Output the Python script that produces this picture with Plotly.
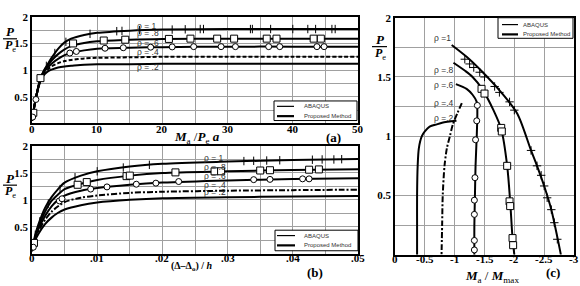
import plotly.graph_objects as go

W, H = 580, 286

# ---------------- Panel (a): P/Pe vs Ma/(Pe a) ----------------
xa = [0, 0.5, 1, 1.5, 2, 2.5, 3, 4, 5, 6, 8, 10, 15, 20, 30, 40, 50]
a_r10 = [0.05, 0.42, 0.7, 0.9, 1.03, 1.13, 1.23, 1.4, 1.52, 1.59, 1.66, 1.7, 1.74, 1.76, 1.77, 1.77, 1.77]
a_r08 = [0.05, 0.42, 0.7, 0.9, 1.02, 1.1, 1.18, 1.3, 1.39, 1.45, 1.51, 1.54, 1.57, 1.585, 1.59, 1.59, 1.59]
a_r06 = [0.05, 0.42, 0.7, 0.9, 1.0, 1.06, 1.12, 1.21, 1.28, 1.32, 1.37, 1.4, 1.42, 1.43, 1.44, 1.44, 1.44]
a_r04 = [0.05, 0.42, 0.7, 0.88, 0.97, 1.02, 1.07, 1.13, 1.17, 1.19, 1.22, 1.23, 1.24, 1.25, 1.25, 1.25, 1.25]
a_r02 = [0.05, 0.42, 0.68, 0.85, 0.93, 0.98, 1.01, 1.05, 1.07, 1.08, 1.1, 1.11, 1.11, 1.12, 1.12, 1.12, 1.12]

# ABAQUS points (a)
aq_a_r10_x = [0.3, 0.9, 2.2, 3.5, 5.2, 8.9, 13, 13.8, 16.5, 21.5, 23.5, 25.8, 26.3, 33.5, 33.8, 36.6, 40, 42.3, 43.5, 46, 46.5]
aq_a_r10_y = [0.28, 0.65, 1.08, 1.32, 1.53, 1.68, 1.73, 1.735, 1.75, 1.76, 1.765, 1.77, 1.77, 1.77, 1.77, 1.77, 1.77, 1.77, 1.77, 1.77, 1.77]
aq_a_r08_x = [0.2, 1.3, 6.3, 11, 14.3, 21, 24.3, 28.4, 31, 36, 37.5, 43.2, 44.3]
aq_a_r08_y = [0.2, 0.85, 1.5, 1.555, 1.57, 1.585, 1.59, 1.59, 1.59, 1.59, 1.59, 1.59, 1.59]
aq_a_r06_x = [0.1, 0.6, 5.8, 6.8, 11.2, 14, 18.2, 21.5, 24.8, 29, 31.2, 36.3, 38, 43.7, 44.8]
aq_a_r06_y = [0.12, 0.45, 1.32, 1.35, 1.41, 1.42, 1.43, 1.435, 1.44, 1.44, 1.44, 1.44, 1.44, 1.44, 1.44]

# ---------------- Panel (b): P/Pe vs (Δ-Δo)/h ----------------
xb = [0, 0.0005, 0.001, 0.002, 0.003, 0.004, 0.005, 0.0075, 0.01, 0.015, 0.02, 0.03, 0.04, 0.05]
b_r10 = [0.05, 0.35, 0.55, 0.85, 1.05, 1.2, 1.32, 1.45, 1.53, 1.62, 1.67, 1.71, 1.74, 1.76]
b_r08 = [0.05, 0.32, 0.5, 0.78, 0.98, 1.1, 1.2, 1.3, 1.37, 1.45, 1.5, 1.53, 1.555, 1.57]
b_r06 = [0.05, 0.3, 0.46, 0.7, 0.88, 1.0, 1.08, 1.17, 1.22, 1.28, 1.32, 1.36, 1.385, 1.40]
b_r04 = [0.05, 0.28, 0.42, 0.63, 0.78, 0.88, 0.96, 1.04, 1.08, 1.13, 1.15, 1.17, 1.18, 1.19]
b_r02 = [0.05, 0.25, 0.37, 0.55, 0.67, 0.76, 0.82, 0.9, 0.95, 1.0, 1.03, 1.05, 1.06, 1.07]

aq_b_r10_x = [0.0005, 0.0012, 0.0025, 0.0043, 0.0066, 0.01, 0.014, 0.018, 0.0325, 0.034, 0.036, 0.038, 0.043, 0.0445, 0.0463, 0.0475]
aq_b_r10_y = [0.35, 0.6, 0.93, 1.2, 1.42, 1.53, 1.6, 1.65, 1.72, 1.725, 1.73, 1.735, 1.745, 1.75, 1.75, 1.755]
aq_b_r08_x = [0.0003, 0.007, 0.0084, 0.0145, 0.015, 0.022, 0.028, 0.029, 0.035, 0.0365, 0.0425, 0.044]
aq_b_r08_y = [0.2, 1.28, 1.33, 1.44, 1.45, 1.51, 1.53, 1.53, 1.545, 1.55, 1.56, 1.565]
aq_b_r06_x = [0.0002, 0.0042, 0.0046, 0.009, 0.0115, 0.016, 0.019, 0.0225, 0.034, 0.0365, 0.0415, 0.0425]
aq_b_r06_y = [0.12, 0.98, 1.02, 1.2, 1.24, 1.29, 1.31, 1.34, 1.375, 1.38, 1.39, 1.39]

# ---------------- Panel (c): P/Pe vs Ma/Mmax ----------------
c_r10_x = [-0.95, -1.2, -1.45, -1.78, -2.05, -2.28, -2.38, -2.5, -2.62, -2.72, -2.78]
c_r10_y = [1.77, 1.67, 1.55, 1.37, 1.19, 0.88, 0.75, 0.58, 0.38, 0.15, 0]
c_r08_x = [-0.98, -1.18, -1.3, -1.46, -1.65, -1.78, -1.88, -1.93, -1.97, -2.0]
c_r08_y = [1.62, 1.55, 1.5, 1.4, 1.22, 1.06, 0.75, 0.45, 0.14, 0]
c_r06_x = [-1.02, -1.2, -1.3, -1.37, -1.38, -1.37, -1.35, -1.34, -1.33, -1.33]
c_r06_y = [1.44, 1.4, 1.35, 1.29, 1.2, 1.0, 0.75, 0.5, 0.25, 0]
c_r04_x = [-1.12, -1.05, -0.97, -0.92, -0.87, -0.83, -0.8, -0.79, -0.78]
c_r04_y = [1.28, 1.2, 1.1, 1.0, 0.9, 0.75, 0.5, 0.25, 0]
c_r02_x = [-1.03, -0.85, -0.7, -0.58, -0.5, -0.45, -0.4, -0.38, -0.37, -0.37, -0.37]
c_r02_y = [1.13, 1.12, 1.1, 1.08, 1.04, 1.0, 0.9, 0.75, 0.5, 0.25, 0]

aq_c_r10_x = [-1.17, -1.25, -1.32, -1.42, -1.5, -1.67, -1.75, -1.92, -2.0, -2.28, -2.38, -2.45, -2.5, -2.55, -2.62, -2.67, -2.72]
aq_c_r10_y = [1.65, 1.61, 1.58, 1.54, 1.5, 1.42, 1.37, 1.29, 1.22, 0.88, 0.75, 0.67, 0.58, 0.48, 0.38, 0.27, 0.13]
aq_c_r08_x = [-1.45, -1.5, -1.78, -1.79, -1.88, -1.92, -1.93, -1.97, -1.98]
aq_c_r08_y = [1.4, 1.36, 1.07, 1.04, 0.75, 0.45, 0.41, 0.14, 0.08]
aq_c_r06_x = [-1.38, -1.37, -1.35, -1.34, -1.33, -1.33, -1.33, -1.33]
aq_c_r06_y = [1.26, 1.13, 0.97, 0.65, 0.46, 0.34, 0.12, 0.04]

# tick labels
xa_ticks = [0, 10, 20, 30, 40, 50]
xa_text = ["0", "10", "20", "30", "40", "50"]
xb_ticks = [0, 0.01, 0.02, 0.03, 0.04, 0.05]
xb_text = ["0", ".01", ".02", ".03", ".04", ".05"]
xc_ticks = [0, -0.5, -1, -1.5, -2, -2.5, -3]
xc_text = ["0", "-0.5", "-1", "-1.5", "-2", "-2.5", "-3"]
y_ticks = [0.5, 1, 1.5, 2]
y_text = ["0.5", "1", "1.5", "2"]

rho_labels = ["ρ = 1", "ρ = .8", "ρ = .6", "ρ = .4", "ρ = .2"]
rho_labels_c = ["ρ =1", "ρ =.8", "ρ =.6", "ρ =.4", "ρ =.2"]

legend_labels = ["ABAQUS", "Proposed Method"]


def px(x):
    return x / W


def py(y):
    return 1 - y / H


fig = go.Figure()

THICK = 2.0


def add_curves(xs_list, ys_list, xaxis, yaxis, dash4):
    for i, (xs, ys) in enumerate(zip(xs_list, ys_list)):
        dash = dash4 if i == 3 else "solid"
        fig.add_trace(go.Scatter(x=xs, y=ys, mode="lines", xaxis=xaxis, yaxis=yaxis,
                                 line=dict(color="black", width=THICK, dash=dash, shape="spline", smoothing=0.8),
                                 showlegend=False, hoverinfo="skip"))


def add_aq(x, y, xaxis, yaxis, symbol, size=7):
    is_open = symbol.endswith("-open")
    fig.add_trace(go.Scatter(x=x, y=y, mode="markers", xaxis=xaxis, yaxis=yaxis,
                             marker=dict(symbol=symbol, size=size, color="black" if is_open else "white",
                                         line=dict(color="black", width=1)),
                             showlegend=False, hoverinfo="skip"))


add_curves([xa] * 5, [a_r10, a_r08, a_r06, a_r04, a_r02], "x", "y", "4px,2px")
add_aq(aq_a_r10_x, aq_a_r10_y, "x", "y", "line-ns-open", 6)
add_aq(aq_a_r08_x, aq_a_r08_y, "x", "y", "square", 7)
add_aq(aq_a_r06_x, aq_a_r06_y, "x", "y", "circle", 6)

add_curves([xb] * 5, [b_r10, b_r08, b_r06, b_r04, b_r02], "x2", "y2", "6px,2px,2px,2px")
add_aq(aq_b_r10_x, aq_b_r10_y, "x2", "y2", "line-ns-open", 6)
add_aq(aq_b_r08_x, aq_b_r08_y, "x2", "y2", "square", 7)
add_aq(aq_b_r06_x, aq_b_r06_y, "x2", "y2", "circle", 6)

add_curves([c_r10_x, c_r08_x, c_r06_x, c_r04_x, c_r02_x],
           [c_r10_y, c_r08_y, c_r06_y, c_r04_y, c_r02_y], "x3", "y3", "6px,2px,2px,2px")
add_aq(aq_c_r10_x, aq_c_r10_y, "x3", "y3", "cross-thin-open", 6)
add_aq(aq_c_r08_x, aq_c_r08_y, "x3", "y3", "square", 7)
add_aq(aq_c_r06_x, aq_c_r06_y, "x3", "y3", "circle", 6)

tickfont = dict(family="Liberation Serif", size=11, color="black", weight="bold")
axis_common = dict(showline=True, mirror=True, linecolor="black", linewidth=1.5,
                   showgrid=True, gridcolor="#a0a0a0", gridwidth=1, zeroline=False,
                   ticks="", tickfont=tickfont, fixedrange=True)
gridminor = dict(showgrid=True, gridcolor="#a0a0a0")

fig.update_layout(
    width=W, height=H,
    margin=dict(l=0, r=0, t=0, b=0),
    paper_bgcolor="white", plot_bgcolor="white",
    showlegend=False,
    xaxis=dict(domain=[px(32), px(358)], range=[0, 50], tickvals=xa_ticks, showticklabels=False,
               minor=dict(dtick=5, **gridminor), anchor="y", **axis_common),
    yaxis=dict(domain=[py(120), py(11)], range=[0, 2], tickvals=y_ticks, ticktext=y_text,
               minor=dict(dtick=0.25, **gridminor), anchor="x", **axis_common),
    xaxis2=dict(domain=[px(32), px(358)], range=[0, 0.05], tickvals=xb_ticks, showticklabels=False,
                minor=dict(dtick=0.005, **gridminor), anchor="y2", **axis_common),
    yaxis2=dict(domain=[py(253), py(143)], range=[0, 2], tickvals=y_ticks, ticktext=y_text,
                minor=dict(dtick=0.25, **gridminor), anchor="x2", **axis_common),
    xaxis3=dict(domain=[px(395), px(574)], range=[0, -3], tickvals=xc_ticks, showticklabels=False,
                anchor="y3", **axis_common),
    yaxis3=dict(domain=[py(254), py(12)], range=[0, 2], tickvals=y_ticks, ticktext=y_text,
                minor=dict(dtick=0.25, **gridminor), anchor="x3", **axis_common),
)

ann = []
shapes = []
serif = "Liberation Serif"
sans = "Liberation Sans"


def note(x, y, text, size, family=serif, color="black", xanchor="center", xref="paper", yref="paper"):
    if xref == "paper":
        x = px(x)
    if yref == "paper":
        y = py(y)
    ann.append(dict(x=x, y=y, xref=xref, yref=yref, text=text, showarrow=False,
                    xanchor=xanchor, yanchor="middle",
                    font=dict(family=family, size=size, color=color)))


# x tick labels (placed close to the frame, as in the reference)
for v, t in zip(xa_ticks, xa_text):
    note(v, 126, "<b>" + t + "</b>", 11, xref="x")
for v, t in zip(xb_ticks, xb_text):
    note(v, 257, "<b>" + t + "</b>", 11, xref="x2")
for v, t in zip(xc_ticks, xc_text):
    note(v, 258, "<b>" + t + "</b>", 11, xref="x3")

# rho labels
rho_a_y = [1.83, 1.69, 1.5, 1.34, 1.05]
for lab, yv in zip(rho_labels, rho_a_y):
    note(15.8, yv, lab, 8.5, sans, "#333", "left", "x", "y")
rho_b_y = [1.78, 1.61, 1.44, 1.27, 1.15]
for lab, yv in zip(rho_labels, rho_b_y):
    note(0.0261, yv, lab, 8.5, sans, "#333", "left", "x2", "y2")
rho_c_y = [1.83, 1.56, 1.43, 1.28, 1.15]
for lab, yv in zip(rho_labels_c, rho_c_y):
    note(-0.62, yv, lab, 8.5, sans, "#333", "left", "x3", "y3")


def pfrac(cx, ytop, yline, ybot, x0, x1):
    note(cx, ytop, "<b><i>P</i></b>", 13)
    note(cx, ybot, "<b><i>P</i></b><sub>e</sub>", 12)
    shapes.append(dict(type="line", xref="paper", yref="paper", x0=px(x0), x1=px(x1),
                       y0=py(yline), y1=py(yline), line=dict(color="black", width=1.2)))


pfrac(10, 26, 33.5, 41, 3, 17)
pfrac(10, 176, 183, 190, 3, 17)
pfrac(380, 34, 41.5, 49, 372, 387)

# axis titles
note(197, 134, "<b><i>M</i></b><sub>a</sub> /<b><i>P</i></b><sub>e</sub> <b><i>a</i></b>", 13)
note(333, 134, "<b>(a)</b>", 13)
note(191, 266, "<b>(Δ–Δ<sub>o</sub>) / <i>h</i></b>", 10)
note(315, 272, "<b>(b)</b>", 13)
note(492, 276, "<b><i>M</i></b><sub>a</sub> / <b><i>M</i></b><sub>max</sub>", 13)
note(553, 272, "<b>(c)</b>", 13)


def legend_box(x0, y0, x1, y1, lx0, lx1, ly1, ly2, tx):
    shapes.append(dict(type="rect", xref="paper", yref="paper", x0=px(x0), x1=px(x1), y0=py(y1), y1=py(y0),
                       line=dict(color="black", width=1), fillcolor="white", layer="above"))
    for ly, wd, lab in [(ly1, 1.2, legend_labels[0]), (ly2, 2.2, legend_labels[1])]:
        shapes.append(dict(type="line", xref="paper", yref="paper", x0=px(lx0), x1=px(lx1),
                           y0=py(ly), y1=py(ly), line=dict(color="black", width=wd), layer="above"))
        note(tx, ly, lab, 6, sans, "#333", "left")


legend_box(274, 97, 357, 117, 277, 294, 102.5, 112.5, 302)
legend_box(275, 229, 358, 250, 277, 295, 234.5, 244.5, 302)
legend_box(498, 12, 573, 33, 502, 518, 19, 29, 521)

fig.update_layout(annotations=ann, shapes=shapes)

fig.write_html("out.html", config={"displayModeBar": False},
               post_script="document.body.style.margin='0px';document.body.style.padding='0px';"
                           "document.documentElement.style.overflow='hidden';")
